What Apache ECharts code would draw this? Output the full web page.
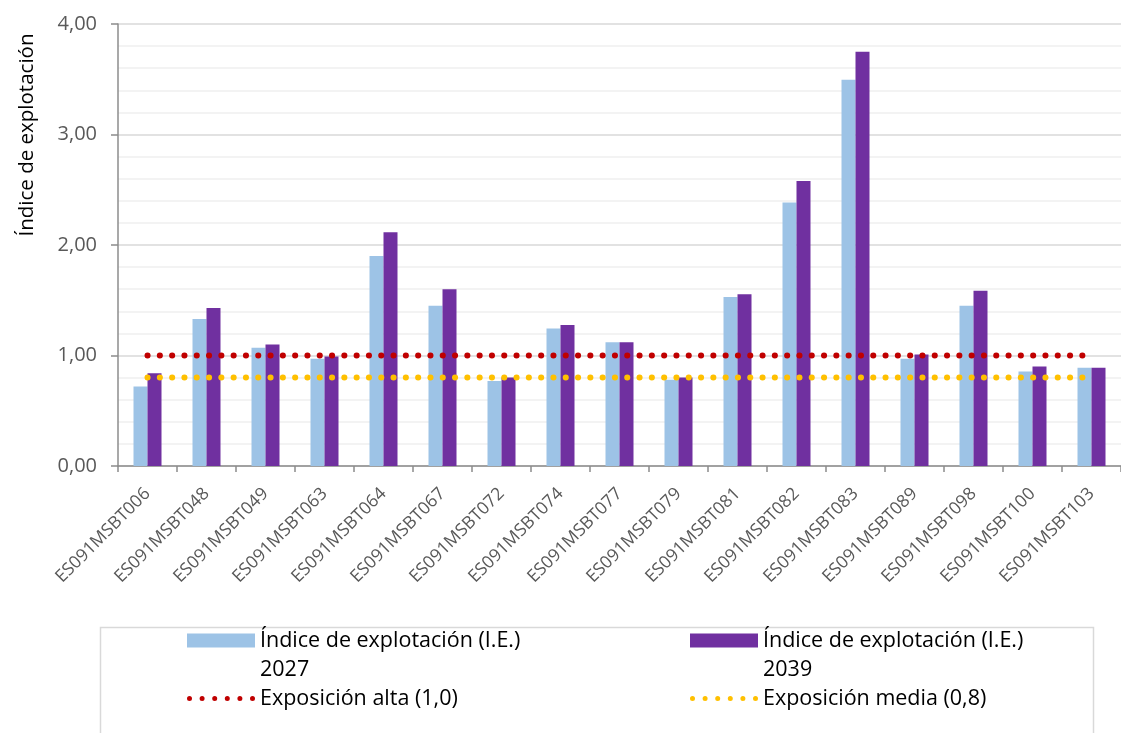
<!DOCTYPE html>
<html>
<head>
<meta charset="utf-8">
<script src="https://cdn.jsdelivr.net/npm/echarts@6/dist/echarts.min.js"></script>
<style>html,body{margin:0;padding:0;background:#fff}#c{width:1121px;height:733px}</style>
</head>
<body>
<div id="c"></div>
<script>
const categories = ['ES091MSBT006','ES091MSBT048','ES091MSBT049','ES091MSBT063','ES091MSBT064','ES091MSBT067','ES091MSBT072','ES091MSBT074','ES091MSBT077','ES091MSBT079','ES091MSBT081','ES091MSBT082','ES091MSBT083','ES091MSBT089','ES091MSBT098','ES091MSBT100','ES091MSBT103'];
const ie2027 = [0.72,1.33,1.07,0.97,1.90,1.45,0.77,1.245,1.12,0.78,1.53,2.385,3.495,0.97,1.45,0.855,0.89];
const ie2039 = [0.84,1.43,1.10,0.99,2.115,1.60,0.80,1.275,1.12,0.80,1.555,2.58,3.75,1.01,1.585,0.90,0.89];
const altaValue = 1.0;
const mediaValue = 0.8;
const yTicks = [0,1,2,3,4];
const seriesNames = ['Índice de explotación (I.E.) 2027','Índice de explotación (I.E.) 2039','Exposición alta (1,0)','Exposición media (0,8)'];
const yAxisTitle = 'Índice de explotación';

const FONT = 'Open Sans';
const chart = echarts.init(document.getElementById('c'), null, {renderer:'canvas'});
const dotStyle = (color) => ({color: color, width: 6, type: [0.1, 12.2], cap: 'round'});
const legendText = {fontFamily: FONT, fontSize: 21.5, color: '#000', lineHeight: 29};
const wrapName = n => ' \n' + n.replace(/ (20\d\d)$/, '\n$1');
// legend icon: six round dots
let dotPath = 'path://';
for (let i = 0; i < 6; i++) {
  const cx = 2.5 + i * 12.6;
  dotPath += 'M' + (cx - 2.5) + ' 2.5a2.5 2.5 0 1 0 5 0a2.5 2.5 0 1 0 -5 0Z';
}

chart.setOption({
  animation: false,
  backgroundColor: '#fff',
  grid: {left: 118, top: 24, width: 1015, height: 442, containLabel: false},
  xAxis: {
    type: 'category', data: categories,
    axisLine: {lineStyle: {color: '#8c8c8c', width: 1.5}},
    axisTick: {show: true, length: 6, lineStyle: {color: '#8c8c8c', width: 1.5}},
    axisLabel: {interval: 0, rotate: 45, fontFamily: FONT, fontSize: 17.5, color: '#595959', margin: 25}
  },
  yAxis: {
    type: 'value', min: yTicks[0], max: yTicks[yTicks.length-1], interval: 1,
    axisLine: {show: true, lineStyle: {color: '#8c8c8c', width: 1.5}},
    axisTick: {show: true, length: 7, lineStyle: {color: '#8c8c8c', width: 1.5}},
    axisLabel: {fontFamily: FONT, fontSize: 20, color: '#595959', margin: 21,
      formatter: v => v.toFixed(2).replace('.', ',')},
    splitLine: {show: true, lineStyle: {color: '#d9d9d9', width: 1.5}},
    minorTick: {show: false, splitNumber: 5},
    minorSplitLine: {show: true, lineStyle: {color: '#f0f0f0', width: 1.5}}
  },
  legend: [
    {data: [seriesNames[0]], left: 187, top: 597, itemWidth: 68, itemHeight: 14, padding: 0, icon: 'rect',
      formatter: wrapName, textStyle: legendText},
    {data: [seriesNames[1]], left: 690, top: 597, itemWidth: 68, itemHeight: 14, padding: 0, icon: 'rect',
      formatter: wrapName, textStyle: legendText},
    {data: [seriesNames[2]], left: 187, top: 684, itemWidth: 68, itemHeight: 5, padding: 0, icon: dotPath,
      textStyle: legendText},
    {data: [seriesNames[3]], left: 690, top: 684, itemWidth: 68, itemHeight: 5, padding: 0, icon: dotPath,
      textStyle: legendText}
  ],
  graphic: [
    {type: 'rect', left: 98, top: 625, shape: {width: 993, height: 130},
      style: {fill: 'none', stroke: '#d9d9d9', lineWidth: 1.5}, silent: true},
    {type: 'text', x: 27, y: 135, rotation: Math.PI/2,
      style: {text: yAxisTitle, fontFamily: FONT, fontSize: 20.5, fill: '#000', align: 'center', verticalAlign: 'middle'}}
  ],
  series: [
    {name: seriesNames[0], type: 'bar', data: ie2027, barWidth: 14, barGap: '0%',
      itemStyle: {color: '#9DC3E6'}},
    {name: seriesNames[1], type: 'bar', data: ie2039, barWidth: 14, barGap: '0%',
      itemStyle: {color: '#7030A0'}},
    {name: seriesNames[2], type: 'line', data: categories.map(() => altaValue), symbol: 'none',
      lineStyle: dotStyle('#C00000'), itemStyle: {color: '#C00000'}, z: 5},
    {name: seriesNames[3], type: 'line', data: categories.map(() => mediaValue), symbol: 'none',
      lineStyle: dotStyle('#FFC000'), itemStyle: {color: '#FFC000'}, z: 5}
  ]
});
</script>
</body>
</html>
